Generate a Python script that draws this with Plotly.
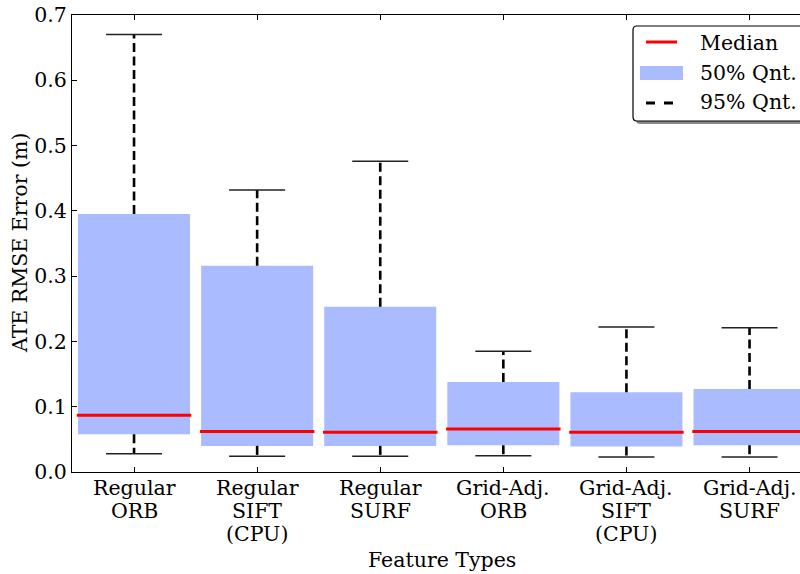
import plotly.graph_objects as go

# ---- data ----
categories = ["Regular\nORB", "Regular\nSIFT\n(CPU)", "Regular\nSURF",
              "Grid-Adj.\nORB", "Grid-Adj.\nSIFT\n(CPU)", "Grid-Adj.\nSURF"]
q25 = [0.058, 0.040, 0.040, 0.041, 0.039, 0.041]
q75 = [0.395, 0.316, 0.253, 0.138, 0.122, 0.127]
median = [0.087, 0.062, 0.061, 0.066, 0.061, 0.062]
p_low = [0.028, 0.024, 0.024, 0.025, 0.023, 0.023]
p_high = [0.670, 0.432, 0.476, 0.185, 0.222, 0.221]
y_ticks = [0.0, 0.1, 0.2, 0.3, 0.4, 0.5, 0.6, 0.7]

FONT = "DejaVu Serif"
FS = 20.5
BOX_W = 0.91
CAP_W = 0.455
pos = list(range(1, len(categories) + 1))

fig = go.Figure()

# boxes (50% quantile)
fig.add_trace(go.Bar(x=pos, y=[h - l for l, h in zip(q25, q75)], base=q25,
                     width=BOX_W, marker=dict(color="#aabbff", line=dict(width=0)),
                     showlegend=False, hoverinfo="skip"))

# whiskers (95% quantile)
wx, wy = [], []
for p, lo, hi, a, b in zip(pos, p_low, p_high, q25, q75):
    wx += [p, p, None, p, p, None]
    wy += [b, hi, None, a, lo, None]
fig.add_trace(go.Scatter(x=wx, y=wy, mode="lines",
                         line=dict(color="black", width=2.6, dash="9px,4.5px"),
                         showlegend=False, hoverinfo="skip"))

# caps
cx, cy = [], []
for p, lo, hi in zip(pos, p_low, p_high):
    cx += [p - CAP_W / 2, p + CAP_W / 2, None, p - CAP_W / 2, p + CAP_W / 2, None]
    cy += [hi, hi, None, lo, lo, None]
fig.add_trace(go.Scatter(x=cx, y=cy, mode="lines",
                         line=dict(color="#222222", width=1.5),
                         showlegend=False, hoverinfo="skip"))

# medians
mx, my = [], []
for p, m in zip(pos, median):
    mx += [p - BOX_W / 2 - 0.01, p + BOX_W / 2 + 0.01, None]
    my += [m, m, None]
fig.add_trace(go.Scatter(x=mx, y=my, mode="lines",
                         line=dict(color="red", width=3),
                         showlegend=False, hoverinfo="skip"))

# ---- layout ----
L, R, T, B = 72, 800, 15, 472
W, H = 800, 574


def px(x):
    return (x - L) / (R - L)


def py(y):
    return (B - y) / (B - T)


fig.update_layout(
    width=W, height=H,
    margin=dict(l=L, r=W - R, t=T, b=H - B),
    plot_bgcolor="white", paper_bgcolor="white",
    font=dict(family=FONT, size=FS, color="black"),
    showlegend=False,
    xaxis=dict(range=[0.496, 6.41], tickvals=pos, showticklabels=False,
               ticks="inside", ticklen=5, tickcolor="black", tickwidth=1,
               showline=True, linecolor="black", linewidth=1.3, mirror="ticks",
               showgrid=False, zeroline=False),
    yaxis=dict(range=[0, 0.7], tickvals=y_ticks, tickformat=".1f",
               ticks="inside", ticklen=5, tickcolor="black", tickwidth=1,
               showline=True, linecolor="black", linewidth=1.3,
               showgrid=False, zeroline=False, tickfont=dict(size=FS)),
)

annotations = [
    dict(text="ATE RMSE Error (m)", xref="paper", yref="paper",
         x=px(20), y=py(243), textangle=-90, showarrow=False,
         xanchor="center", yanchor="middle", font=dict(size=FS)),
    dict(text="Feature Types", xref="x", yref="paper", x=3.5, y=py(560),
         showarrow=False, xanchor="center", yanchor="middle", font=dict(size=FS)),
]

# category tick labels, matplotlib-like line spacing
for p, cat in zip(pos, categories):
    for k, line in enumerate(cat.split("\n")):
        annotations.append(dict(text=line, xref="x", yref="paper", x=p,
                                y=py(488 + 23 * k), showarrow=False,
                                xanchor="center", yanchor="middle",
                                font=dict(size=FS)))

# ---- manual legend ----
shapes = []
lx0, lx1, ly0, ly1, r = 633, 812, 26, 121, 4


def rounded(x0, y0, x1, y1, rad):
    return (f"M {px(x0 + rad)},{py(y0)} L {px(x1 - rad)},{py(y0)} "
            f"Q {px(x1)},{py(y0)} {px(x1)},{py(y0 + rad)} L {px(x1)},{py(y1 - rad)} "
            f"Q {px(x1)},{py(y1)} {px(x1 - rad)},{py(y1)} L {px(x0 + rad)},{py(y1)} "
            f"Q {px(x0)},{py(y1)} {px(x0)},{py(y1 - rad)} L {px(x0)},{py(y0 + rad)} "
            f"Q {px(x0)},{py(y0)} {px(x0 + rad)},{py(y0)} Z")


shapes.append(dict(type="path", xref="paper", yref="paper",
                   path=rounded(lx0 + 3, ly0 + 3, lx1 + 3, ly1 + 3, r),
                   fillcolor="#888888", line=dict(width=0)))
shapes.append(dict(type="path", xref="paper", yref="paper",
                   path=rounded(lx0, ly0, lx1, ly1, r),
                   fillcolor="white", line=dict(color="black", width=1.2)))
shapes.append(dict(type="line", xref="paper", yref="paper",
                   x0=px(646), x1=px(677), y0=py(42), y1=py(42),
                   line=dict(color="red", width=3)))
shapes.append(dict(type="rect", xref="paper", yref="paper",
                   x0=px(640), x1=px(683), y0=py(66), y1=py(80),
                   fillcolor="#aabbff", line=dict(width=0)))
shapes.append(dict(type="line", xref="paper", yref="paper",
                   x0=px(646), x1=px(674), y0=py(103), y1=py(103),
                   line=dict(color="black", width=3, dash="9px,9px")))

for label, yc in [("Median", 43), ("50% Qnt.", 73), ("95% Qnt.", 102)]:
    annotations.append(dict(text=label, xref="paper", yref="paper",
                            x=px(698), y=py(yc), showarrow=False,
                            xanchor="left", yanchor="middle", font=dict(size=FS)))

fig.update_layout(shapes=shapes, annotations=annotations)

fig.write_html("out.html")
